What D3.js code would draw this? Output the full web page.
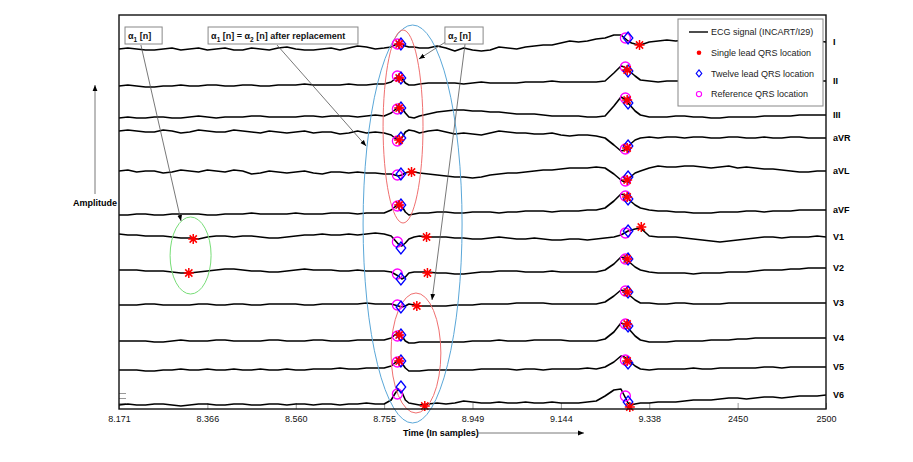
<!DOCTYPE html>
<html>
<head>
<meta charset="utf-8">
<script src="https://cdn.jsdelivr.net/npm/d3@7"></script>
<style>
  body { margin: 0; background: #fff; }
  text { font-family: "Liberation Sans", Arial, Helvetica, sans-serif; }
</style>
</head>
<body>
<div id="chart"></div>
<script>
// Leads and their vertical offsets (amplitude units, 0.01 mV)
const leads = ["I", "II", "III", "aVR", "aVL", "aVF", "V1", "V2", "V3", "V4", "V5", "V6"];
const leadBaselines = [360, 323, 291, 278, 238, 194, 174, 139, 104, 68, 39, 4];

// Sample instants of the traces
const samples = [
  2100,2105,2110,2115,2120,2125,2130,2135,2140,2145,2150,2155,2160,2165,2170,2175,2180,2185,2190,2195,2200,2205,2210,2215,2220,2225,2230,2235,2240,2245,2250,
  2254,2256,2258,2260,2262,2264,2267,2270,2275,2280,
  2285,2290,2295,2300,2305,2310,2315,2320,2325,2330,2335,2340,2345,2350,2355,2360,2365,2370,
  2375,2380,2384,2386,2388,2390,2392,2395,
  2400,2405,2410,2415,2420,2425,2430,2435,2440,2445,2450,2455,2460,2465,2470,2475,2480,2485,2490,2495,2500];

// ECG values per lead, relative to the lead offset
const ecgI = [0,1,0,-1,-1,0,1,-1,0,1,-1,0,1,-1,-1,1,0,-1,1,2,0,-1,-1,0,1,-1,1,3,2,0,1,
  2,4,5,5,3,2,2,1,1,3,
  1,-2,1,-1,-2,-1,2,1,0,2,3,4,4,6,8,7,8,10,
  11,14,14,11,8,6,5,4,
  7,8,9,8,9,9,8,9,9,8,8,9,9,8,8,9,9,8,8,8,7];
const ecgII = [0,1,0,-1,-1,0,0,1,0,0,1,1,0,0,1,1,0,0,1,1,1,2,1,1,1,1,2,1,1,2,2,
  4,7,10,8,3,1,1,2,3,3,
  3,3,2,3,4,3,3,3,3,4,4,4,5,4,4,4,4,4,
  5,13,20,19,16,13,10,6,
  5,4,5,5,5,6,5,5,5,5,6,5,5,6,5,5,5,4,5,5,5];
const ecgIII = [0,1,0,0,1,1,0,0,1,2,1,0,1,1,1,2,2,1,1,1,1,2,2,1,2,2,2,1,2,3,2,
  5,8,11,10,5,1,0,2,4,6,
  7,8,8,7,7,6,6,5,4,4,4,3,2,2,2,2,1,1,
  2,12,21,19,15,11,7,3,
  1,1,1,2,2,1,1,0,0,1,1,1,1,2,2,2,2,3,3,3,3];
const ecgAVR = [0,1,0,-1,-1,1,0,-2,-1,1,0,-1,-1,1,0,-1,-2,0,-1,-2,-1,0,-2,-1,-1,-3,-2,0,-2,-1,-2,
  -4,-7,-9,-7,-1,1,0,-2,0,1,
  -1,-3,-2,-3,-4,-2,0,-1,-2,-2,-3,-3,-2,-4,-5,-4,-4,-5,
  -7,-14,-20,-19,-16,-12,-9,-7,
  -6,-7,-6,-6,-7,-6,-6,-7,-7,-6,-6,-7,-7,-6,-7,-7,-6,-6,-7,-7,-7];
const ecgAVL = [0,1,-1,0,0,-2,-1,1,0,-1,1,0,-1,1,0,-3,-2,0,-1,-2,-1,0,-2,-3,-1,-1,-2,-1,-2,-2,-3,
  -3,-4,-5,-4,-2,-1,-1,-2,-3,-4,
  -5,-6,-6,-7,-6,-4,-3,-2,-2,-1,0,1,1,2,3,3,3,4,
  3,-3,-9,-11,-9,-5,-2,0,
  3,5,4,4,5,5,4,3,4,5,3,4,3,2,2,1,0,-1,-1,0,0];
const ecgAVF = [0,0,1,1,0,0,1,1,1,1,0,0,1,1,1,2,1,1,1,1,2,1,1,1,2,2,2,1,2,2,2,
  5,8,11,9,3,0,1,2,2,3,
  3,2,2,3,3,3,2,3,3,4,4,4,3,4,4,4,5,5,
  7,14,21,20,16,13,10,7,
  5,4,4,3,3,2,2,2,3,3,3,4,4,3,4,4,4,5,5,5,5];
const ecgV1 = [1,0,0,-1,-1,-1,-2,-3,-3,-4,-2,-1,-1,-2,-1,-1,-2,-3,-3,-2,-1,0,0,1,0,0,1,0,1,2,1,
  -1,-5,-9,-11,-8,-4,-2,-1,-2,-2,
  -2,-3,-3,-4,-4,-3,-2,-3,-4,-4,-3,-4,-5,-5,-4,-4,-5,-4,
  -3,-2,0,2,4,5,6,7,
  -1,-2,-2,-2,-3,-4,-5,-6,-7,-6,-5,-4,-3,-2,-2,-3,-2,-2,-2,-1,-2];
const ecgV2 = [0,0,0,-1,-1,-1,-2,-3,-3,-2,-1,0,1,1,0,-1,-1,-2,-2,-1,0,1,0,0,0,-1,-1,0,-1,-1,-1,
  -2,-4,-6,-9,-7,-3,-2,-2,-2,-3,
  -3,-4,-4,-3,-2,-2,-1,-1,-1,-2,-2,-2,-1,-2,-2,-2,-2,-2,
  0,6,13,12,9,6,3,0,
  -2,-3,-3,-3,-3,-4,-3,-3,-3,-2,-2,-2,-1,0,0,0,1,1,2,2,2];
const ecgV3 = [0,0,0,1,1,0,0,0,0,1,1,0,0,1,1,0,0,1,1,1,1,0,0,1,1,1,1,1,2,1,1,
  1,0,-1,-2,-1,1,0,-1,-1,-1,
  -1,0,0,0,1,1,1,1,2,2,2,2,1,1,1,1,1,1,
  3,9,15,14,11,8,5,2,
  2,1,1,2,2,1,1,1,1,2,2,2,2,2,2,2,2,2,2,2,2];
const ecgV4 = [0,0,0,0,-1,-1,0,1,0,0,0,1,1,0,0,0,0,1,1,0,0,0,1,1,0,0,0,1,1,1,1,
  3,6,8,5,0,-2,-2,-1,-1,-1,
  -1,-1,-1,0,0,0,1,0,0,0,1,1,1,1,0,0,0,0,
  2,9,18,17,13,9,5,1,
  -1,-1,-1,0,0,0,0,1,1,1,2,2,3,3,3,3,3,3,3,3,3];
const ecgV5 = [0,0,0,-1,-1,0,0,1,0,0,1,0,0,1,0,0,1,0,0,1,0,0,1,1,1,2,1,1,2,2,2,
  4,7,10,7,2,-1,-1,-1,0,0,
  0,0,0,0,1,1,1,1,0,1,1,0,1,1,1,1,2,1,
  3,8,14,13,10,7,4,1,
  0,1,1,1,1,2,1,1,2,2,2,2,2,3,3,2,3,3,3,3,3];
const ecgV6 = [0,1,0,0,1,1,0,-1,0,1,1,0,0,1,1,0,0,1,1,0,1,1,0,1,1,0,1,1,2,1,1,
  5,11,16,13,5,2,1,0,1,2,
  1,2,4,3,2,2,3,2,2,3,2,2,3,2,2,2,3,4,
  9,15,16,9,2,0,1,2,
  2,3,3,3,4,5,5,5,6,7,7,6,7,8,8,7,8,9,9,9,10];
const ecgValues = [ecgI, ecgII, ecgIII, ecgAVR, ecgAVL, ecgAVF, ecgV1, ecgV2, ecgV3, ecgV4, ecgV5, ecgV6];

// QRS detections: reference and twelve-lead share instants, levels per lead
const refQRS = [2257.5, 2386.5];
const refLevels = [[5,11],[10,19],[9,20],[-10,-18],[-4,-10],[9,19],[-7,2],[-4,11],[0,14],[5,17],[8,10],[11,9]];
const twelveQRS = [2259.5, 2388];
const twelveLevels = [[5,11],[8,15],[10,15],[-7,-15],[-3,-6],[10,16],[-13,4],[-9,11],[-2,13],[6,15],[9,7],[18,3]];
// single lead detections: [sample, level] per lead
const singleQRS = [
  [[2258.5,5],[2394.5,4]],
  [[2258.5,8],[2387.5,16]],
  [[2258.5,10],[2387.5,18]],
  [[2258.5,-9],[2387.5,-17]],
  [[2265.5,-1],[2387.5,-9]],
  [[2258.5,10],[2387.5,18]],
  [[2142,-4],[2274,-2],[2395.5,8]],
  [[2139.5,-3],[2274.5,-3],[2387.5,11]],
  [[2268.5,-1],[2387.5,13]],
  [[2258.5,6],[2387.5,17]],
  [[2258.5,9],[2387.5,9]],
  [[2273,-1],[2389,-2]]
];

// x tick labels
const xTicks = [2100, 2150, 2200, 2250, 2300, 2350, 2400, 2450, 2500];
const xTickLabels = ["8.171", "8.366", "8.560", "8.755", "8.949", "9.144", "9.338", "2450", "2500"];
const yTicks = [6, 11, 16];

const W = 913, H = 462;
const margin = {top: 15, right: 87, bottom: 53, left: 119};
const w = W - margin.left - margin.right, h = H - margin.top - margin.bottom;

const x = d3.scaleLinear().domain([2100, 2500]).range([0, w]);
const y = d3.scaleLinear().domain([0, 394]).range([h, 0]);

const svg = d3.select("#chart").append("svg").attr("width", W).attr("height", H);

const defs = svg.append("defs");
defs.append("marker").attr("id", "arrow")
  .attr("viewBox", "0 0 10 10").attr("refX", 10).attr("refY", 5)
  .attr("markerWidth", 6).attr("markerHeight", 6).attr("markerUnits", "userSpaceOnUse")
  .attr("orient", "auto")
  .append("path").attr("d", "M0,1L10,5L0,9Z").attr("fill", "#000");

const g = svg.append("g").attr("transform", "translate(" + margin.left + "," + margin.top + ")");

// axes (ticks only, frame drawn separately)
const xAxis = g.append("g").attr("transform", "translate(0," + h + ")")
  .call(d3.axisBottom(x).tickValues(xTicks).tickSizeInner(-6).tickSizeOuter(0).tickPadding(7)
    .tickFormat(function (d, i) { return xTickLabels[i]; }));
xAxis.select(".domain").remove();
xAxis.selectAll("line").attr("stroke", "#999");
xAxis.selectAll("text").style("font-size", "9px").attr("fill", "#111");

const yAxis = g.append("g")
  .call(d3.axisLeft(y).tickValues(yTicks).tickSizeInner(-7).tickSizeOuter(0).tickFormat(""));
yAxis.select(".domain").remove();
yAxis.selectAll("line").attr("stroke", "#999");

// ellipses (annotation), in data coordinates
const ellipses = [
  {cx: 2140.5, cy: 153.5, rx: 11.6, ry: 38.5, color: "#77dd77"},
  {cx: 2266.1, cy: 185, rx: 28, ry: 199, color: "#5aa7d8"},
  {cx: 2260.7, cy: 282.5, rx: 11.3, ry: 96.5, color: "#f07070"},
  {cx: 2268, cy: 56, rx: 14.1, ry: 60, color: "#f07070"}
];

// traces
const line = d3.line().x(function (d) { return x(d[0]); }).y(function (d) { return y(d[1]); });
const traces = g.append("g").attr("class", "traces");
leads.forEach(function (lead, i) {
  const pts = samples.map(function (s, j) { return [s, leadBaselines[i] + ecgValues[i][j]]; });
  traces.append("path").attr("d", line(pts))
    .attr("fill", "none").attr("stroke", "#000").attr("stroke-width", 1.6)
    .attr("stroke-linejoin", "round");
  g.append("text").attr("x", w + 7).attr("y", y(pts[pts.length - 1][1]))
    .attr("dy", "0.35em").style("font-size", "9px").style("font-weight", "bold")
    .text(lead);
});

g.selectAll(".ell").data(ellipses).enter().append("ellipse")
  .attr("cx", function (d) { return x(d.cx); })
  .attr("cy", function (d) { return y(d.cy); })
  .attr("rx", function (d) { return x(2100 + d.rx) - x(2100); })
  .attr("ry", function (d) { return y(0) - y(d.ry); })
  .attr("fill", "none").attr("stroke", function (d) { return d.color; }).attr("stroke-width", 1);

// markers
const star = "M-5,0H5M0,-5V5M-3.6,-3.6L3.6,3.6M-3.6,3.6L3.6,-3.6";
const diamond = "M0,-6L4.8,0L0,6L-4.8,0Z";
const mk = g.append("g").attr("class", "markers");
leads.forEach(function (lead, i) {
  refQRS.forEach(function (s, k) {
    mk.append("circle").attr("cx", x(s)).attr("cy", y(leadBaselines[i] + refLevels[i][k]))
      .attr("r", 5).attr("fill", "none").attr("stroke", "#ff00ff").attr("stroke-width", 1.3);
  });
  twelveQRS.forEach(function (s, k) {
    mk.append("path").attr("d", diamond)
      .attr("transform", "translate(" + x(s) + "," + y(leadBaselines[i] + twelveLevels[i][k]) + ")")
      .attr("fill", "none").attr("stroke", "#0000ff").attr("stroke-width", 1.3);
  });
  singleQRS[i].forEach(function (d) {
    mk.append("path").attr("d", star)
      .attr("transform", "translate(" + x(d[0]) + "," + y(leadBaselines[i] + d[1]) + ")")
      .attr("fill", "none").attr("stroke", "#ff0000").attr("stroke-width", 1.5);
  });
});

// arrows from the annotation boxes
const arrows = [
  [[2112.4, 364], [2135.1, 188]],
  [[2189.4, 364], [2239.8, 263]],
  [[2285.6, 368], [2269.7, 350]],
  [[2295.8, 365], [2277.1, 109]]
];
g.selectAll(".arr").data(arrows).enter().append("line")
  .attr("x1", function (d) { return x(d[0][0]); }).attr("y1", function (d) { return y(d[0][1]); })
  .attr("x2", function (d) { return x(d[1][0]); }).attr("y2", function (d) { return y(d[1][1]); })
  .attr("stroke", "#555").attr("stroke-width", 0.8).attr("marker-end", "url(#arrow)");

// annotation boxes
const boxes = [
  {x0: 2103.4, x1: 2124.4, parts: [["α", ""], ["1", "sub"], [" [n]", ""]]},
  {x0: 2150.4, x1: 2235.2, parts: [["α", ""], ["1", "sub"], [" [n] = α", ""], ["2", "sub"], [" [n] after replacement", ""]]},
  {x0: 2284.4, x1: 2306.0, parts: [["α", ""], ["2", "sub"], [" [n]", ""]]}
];
boxes.forEach(function (b) {
  g.append("rect").attr("x", x(b.x0)).attr("y", y(382)).attr("width", x(b.x1) - x(b.x0))
    .attr("height", y(365) - y(382)).attr("fill", "#fff").attr("stroke", "#888").attr("stroke-width", 1);
  const t = g.append("text").attr("x", x(b.x0) + 3).attr("y", y(370))
    .style("font-size", "9px").style("font-weight", "bold").attr("fill", "#111");
  let lowered = false;
  b.parts.forEach(function (p) {
    const ts = t.append("tspan").text(p[0]);
    if (p[1] === "sub") { ts.attr("dy", 2.5).style("font-size", "6.5px"); lowered = true; }
    else if (lowered) { ts.attr("dy", -2.5); lowered = false; }
  });
});

// frame
g.append("rect").attr("width", w).attr("height", h).attr("fill", "none")
  .attr("stroke", "#111").attr("stroke-width", 1.4);

// legend
const lg = svg.append("g").attr("transform", "translate(678,19)");
lg.append("rect").attr("width", 145).attr("height", 87).attr("fill", "#fff")
  .attr("stroke", "#888").attr("stroke-width", 1);
const legendItems = ["ECG signal (INCART/I29)", "Single lead QRS location", "Twelve lead QRS location", "Reference QRS location"];
legendItems.forEach(function (label, i) {
  const yy = 13 + i * 20.7;
  if (i === 0) lg.append("line").attr("x1", 11).attr("x2", 30).attr("y1", yy).attr("y2", yy)
    .attr("stroke", "#000").attr("stroke-width", 1.4);
  if (i === 1) lg.append("circle").attr("cx", 21).attr("cy", yy).attr("r", 2.3).attr("fill", "#ff0000");
  if (i === 2) lg.append("path").attr("d", "M0,-3.5L2.8,0L0,3.5L-2.8,0Z")
    .attr("transform", "translate(21," + yy + ")").attr("fill", "none").attr("stroke", "#0000ff").attr("stroke-width", 1.1);
  if (i === 3) lg.append("circle").attr("cx", 21).attr("cy", yy).attr("r", 2.6)
    .attr("fill", "none").attr("stroke", "#ff00ff").attr("stroke-width", 1.1);
  lg.append("text").attr("x", 33).attr("y", yy).attr("dy", "0.35em")
    .style("font-size", "9px").attr("fill", "#222").text(label);
});

// axis titles with arrows
svg.append("line").attr("x1", 95).attr("y1", 194).attr("x2", 95).attr("y2", 85)
  .attr("stroke", "#555").attr("stroke-width", 0.8).attr("marker-end", "url(#arrow)");
svg.append("text").attr("x", 117).attr("y", 203).attr("dy", "0.35em").attr("text-anchor", "end")
  .style("font-size", "9px").style("font-weight", "bold").text("Amplitude");
svg.append("text").attr("x", 403).attr("y", 433).attr("dy", "0.35em")
  .style("font-size", "9px").style("font-weight", "bold").text("Time (In samples)");
svg.append("line").attr("x1", 478).attr("y1", 433).attr("x2", 584).attr("y2", 433)
  .attr("stroke", "#555").attr("stroke-width", 0.8).attr("marker-end", "url(#arrow)");
</script>
</body>
</html>
